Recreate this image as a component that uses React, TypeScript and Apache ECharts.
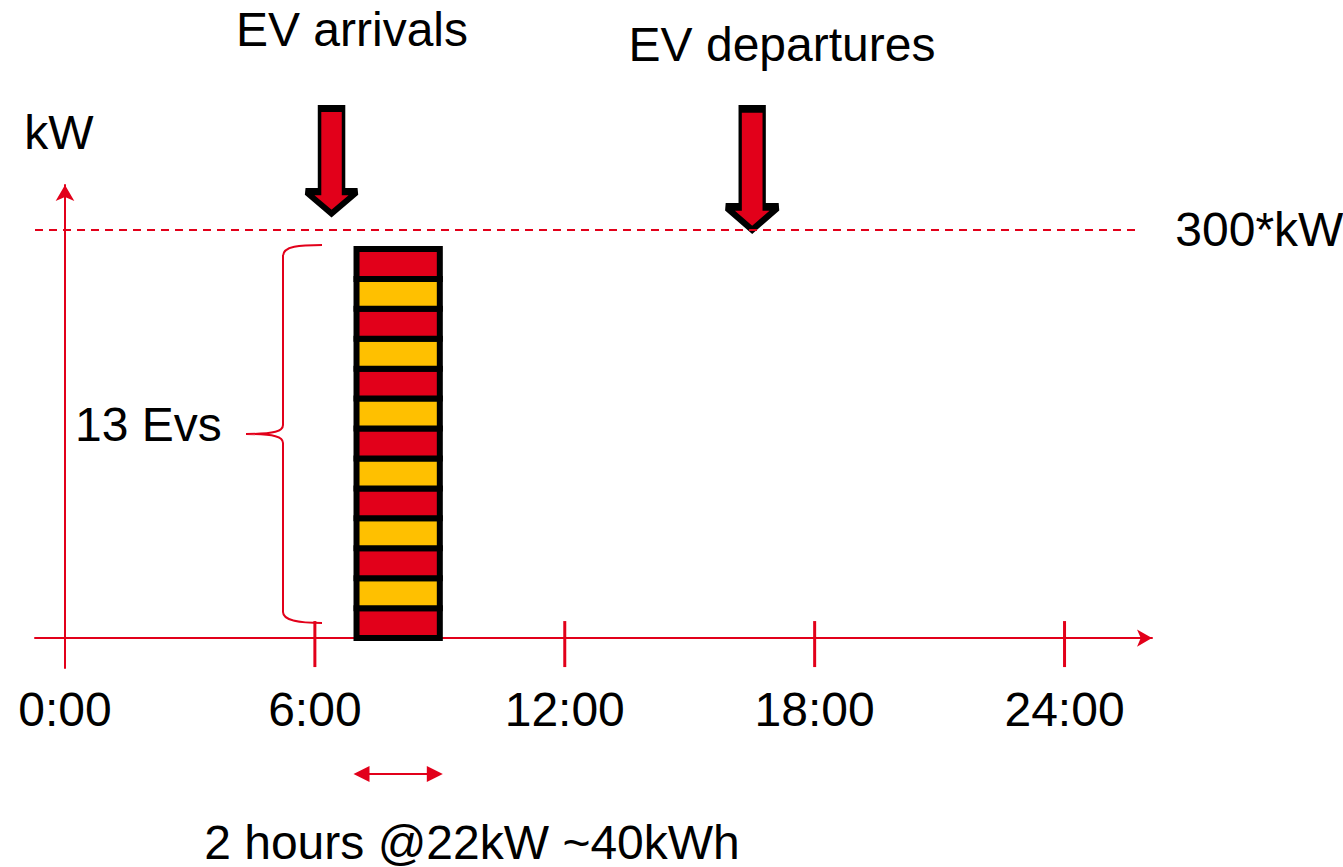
import React, { useEffect, useRef } from "react";
import * as echarts from "echarts";

const RED = "#e2001a";
const YELLOW = "#ffc000";
const FONT = '"Liberation Sans", Arial, Helvetica, sans-serif';
const FS = 48;

// ---- data ----
const hourTicks = [0, 6, 12, 18, 24];
const hourTickLabels = ["0:00", "6:00", "12:00", "18:00", "24:00"];
const evChargingKW = [22, 22, 22, 22, 22, 22, 22, 22, 22, 22, 22, 22, 22];
const chargeWindow = [7, 9];
const capacityKW = 300;
const capacityLabel = "300*kW";
const eventNames = ["EV arrivals", "EV departures"];
const eventHours = [6.4, 16.5];
const eventTipKW = [312, 300];
const evCountLabel = "13 Evs";
const chargeNote = "2 hours @22kW ~40kWh";

// ---- axis extents ----
const X_MIN = -0.72;
const X_MAX = 26.1;
const Y_MIN = -22;
const Y_MAX = 333;

const ARR_PATH = "path://M14 0 L38 0 L38 83 L52 83 L26 105 L0 83 L14 83 Z";
const DEP_PATH = "path://M14.5 0 L38.5 0 L38.5 98 L53 98 L26.5 121 L0 98 L14.5 98 Z";

const BRACE_D =
  "M322 245 C300 245 283 246 283 256 L283 425 C283 431 275 434 246 434 C275 434 283 437 283 443 L283 612 C283 621 300 623 322 623";
echarts.graphic.registerShape("brace", echarts.graphic.extendPath(BRACE_D, {}));

export default function App() {
  const ref = useRef<HTMLDivElement>(null);

  useEffect(() => {
    if (!ref.current) return;
    const chart = echarts.init(ref.current, null, { renderer: "svg" });

    const stackData = evChargingKW.map((kw, i) => {
      const y0 = evChargingKW.slice(0, i).reduce((a, b) => a + b, 0);
      return [chargeWindow[0], chargeWindow[1], y0, y0 + kw, i];
    });

    const textStyle = (text: string, align: string) => ({
      text,
      fontSize: FS,
      fontFamily: FONT,
      fill: "#000",
      lineHeight: 40,
      align,
      verticalAlign: "middle",
      textAlign: align,
      textVerticalAlign: "middle",
    });

    chart.setOption({
      animation: false,
      backgroundColor: "#fff",
      grid: {
        left: 35,
        right: 191,
        top: 185,
        bottom: 199,
        containLabel: false,
        outerBoundsMode: "none",
      },
      xAxis: {
        type: "value",
        min: X_MIN,
        max: X_MAX,
        splitLine: { show: false },
        axisLine: {
          show: true,
          onZero: true,
          symbol: ["none", "arrow"],
          symbolSize: [13, 15],
          lineStyle: { color: RED, width: 2 },
        },
        axisTick: { show: false },
        axisLabel: {
          show: true,
          customValues: hourTicks,
          formatter: (v: number) => hourTickLabels[hourTicks.indexOf(v)] ?? "",
          fontSize: FS,
          fontFamily: FONT,
          color: "#000",
          verticalAlign: "middle",
          margin: 41,
        },
      },
      yAxis: {
        type: "value",
        min: Y_MIN,
        max: Y_MAX,
        name: "kW",
        nameLocation: "end",
        nameGap: 29,
        nameTextStyle: {
          fontSize: FS,
          fontFamily: FONT,
          color: "#000",
          padding: [0, 12, 0, 0],
        },
        splitLine: { show: false },
        axisLine: {
          show: true,
          onZero: true,
          symbol: ["none", "arrow"],
          symbolSize: [14, 16],
          lineStyle: { color: RED, width: 2 },
        },
        axisTick: { show: false },
        axisLabel: { show: false },
      },
      series: [
        {
          type: "custom",
          name: "EV charging",
          coordinateSystem: "cartesian2d",
          silent: true,
          encode: { x: [0, 1], y: [2, 3] },
          data: stackData,
          renderItem: (params: any, api: any) => {
            const p0 = api.coord([api.value(0), api.value(2)]);
            const p1 = api.coord([api.value(1), api.value(3)]);
            return {
              type: "rect",
              shape: { x: p0[0], y: p1[1], width: p1[0] - p0[0], height: p0[1] - p1[1] },
              style: {
                fill: api.value(4) % 2 === 0 ? RED : YELLOW,
                stroke: "#000",
                lineWidth: 6,
              },
            };
          },
          markLine: {
            silent: true,
            symbol: ["none", "none"],
            lineStyle: { color: RED, width: 2, type: [8, 6] },
            label: {
              show: true,
              position: "end",
              distance: 40,
              formatter: () => capacityLabel,
              fontSize: FS,
              fontFamily: FONT,
              color: "#000",
              padding: [22, 0, 0, 0],
            },
            data: [[{ coord: [X_MIN, capacityKW] }, { coord: [25.7, capacityKW] }]],
          },
          z: 3,
        },
        {
          type: "custom",
          name: "charge duration",
          coordinateSystem: "cartesian2d",
          silent: true,
          clip: false,
          data: [[chargeWindow[0], chargeWindow[1]]],
          renderItem: (params: any, api: any) => {
            const pL = api.coord([api.value(0), 0]);
            const pR = api.coord([api.value(1), 0]);
            const y = pL[1] + 136;
            const xL = pL[0] - 3;
            const xR = pR[0] + 3;
            const h = 16;
            return {
              type: "group",
              children: [
                {
                  type: "line",
                  shape: { x1: xL + h - 2, y1: y, x2: xR - h + 2, y2: y },
                  style: { stroke: RED, lineWidth: 2 },
                },
                {
                  type: "polygon",
                  shape: { points: [[xL, y], [xL + h, y - 8], [xL + h, y + 8]] },
                  style: { fill: RED },
                },
                {
                  type: "polygon",
                  shape: { points: [[xR, y], [xR - h, y - 8], [xR - h, y + 8]] },
                  style: { fill: RED },
                },
              ],
            };
          },
        },
        {
          type: "scatter",
          name: "ticks",
          silent: true,
          clip: false,
          symbol: "rect",
          symbolSize: [3, 46],
          symbolOffset: [0, 6],
          itemStyle: { color: RED, opacity: 1 },
          data: hourTicks.filter((h) => h > 0).map((h) => [h, 0]),
          z: 1,
        },
        {
          type: "scatter",
          name: "events",
          silent: true,
          clip: false,
          itemStyle: { color: RED, borderColor: "#000", borderWidth: 5, opacity: 1 },
          data: eventHours.map((h, i) => ({
            value: [h, eventTipKW[i]],
            symbol: i === 0 ? ARR_PATH : DEP_PATH,
            symbolSize: i === 0 ? [52, 105] : [53, 121],
            symbolOffset: [0, "-50%"],
          })),
          z: 4,
        },
      ],
      graphic: [
        { type: "text", x: 352, y: 29, style: textStyle(eventNames[0], "center") },
        { type: "text", x: 782, y: 44, style: textStyle(eventNames[1], "center") },
        { type: "text", x: 75, y: 424, style: textStyle(evCountLabel, "left") },
        { type: "text", x: 472, y: 842, style: textStyle(chargeNote, "center") },
        {
          type: "brace",
          x: 0,
          y: 0,
          shape: {},
          style: { stroke: RED, fill: "none", lineWidth: 2 },
        },
      ],
    });

    return () => chart.dispose();
  }, []);

  return (
    <div
      ref={ref}
      style={{ position: "absolute", left: 0, top: 0, width: 1343, height: 867, background: "#fff" }}
    />
  );
}
